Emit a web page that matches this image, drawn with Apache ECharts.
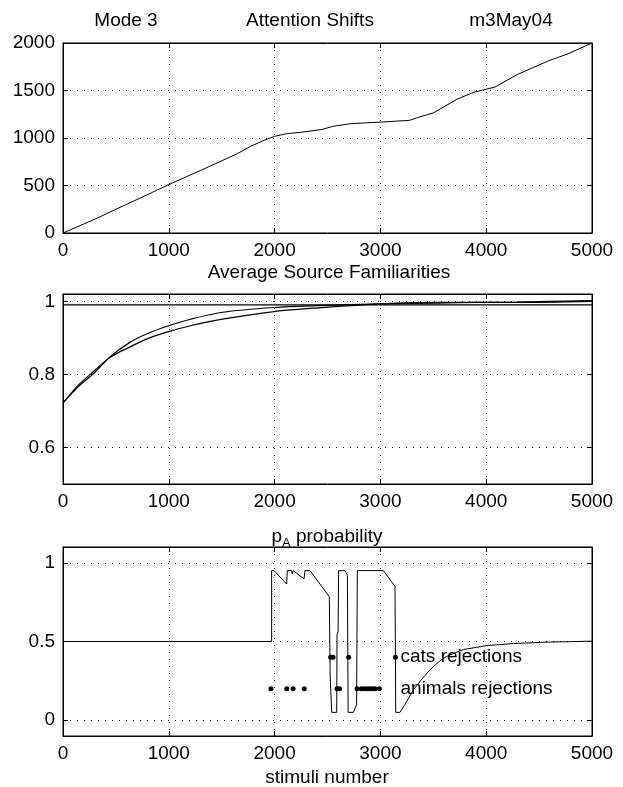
<!DOCTYPE html>
<html>
<head>
<meta charset="utf-8">
<script src="https://cdn.jsdelivr.net/npm/echarts@6/dist/echarts.min.js"></script>
<style>
html,body{margin:0;padding:0;background:#fff;}
#c{width:623px;height:787px;}
</style>
</head>
<body>
<div id="c"></div>
<script>
// ---- Data ----
const xTicks = [0, 1000, 2000, 3000, 4000, 5000];

// Panel 1: Attention Shifts (cumulative)
const shiftsX = [0, 170, 339, 500, 734, 1000, 1300, 1473, 1647, 1773, 1899, 2000, 2120, 2246, 2447, 2560, 2711, 3012, 3276, 3351, 3502, 3728, 3878, 4085, 4292, 4593, 4782, 5000];
const shiftsY = [0, 82, 165, 250, 370, 510, 658, 746, 835, 912, 975, 1018, 1046, 1060, 1090, 1125, 1150, 1168, 1186, 1215, 1265, 1410, 1480, 1537, 1667, 1814, 1890, 2000];
const shiftsTicks = [0, 500, 1000, 1500, 2000];

// Panel 2: Average Source Familiarities (two sources)
const famX = [0, 150, 282, 452, 640, 800, 998, 1205, 1506, 1995, 2410, 3012, 3539, 3916, 4292, 5000];
const famA = [0.722, 0.768, 0.800, 0.850, 0.889, 0.912, 0.933, 0.951, 0.970, 0.983, 0.988, 0.993, 0.995, 0.997, 0.998, 1.002];
const famB = [0.722, 0.772, 0.806, 0.848, 0.876, 0.898, 0.917, 0.933, 0.951, 0.972, 0.982, 0.993, 0.997, 0.997, 0.997, 1.000];
const famRefX = [0, 5000];
const famRefY = [0.99, 0.99];
const famTicks = [0.6, 0.8, 1];

// Panel 3: p_A probability
const pAX = [0, 1972, 1972, 1995, 2114, 2120, 2160, 2167, 2177, 2278, 2287, 2335, 2517, 2525, 2535, 2540, 2587, 2590, 2600, 2605, 2666, 2688, 2695, 2744, 2775, 2782, 3028, 3138, 3145, 3185, 3250, 3311, 3390, 3469, 3550, 3627, 3784, 4005, 4256, 4572, 5000];
const pAY = [0.5, 0.5, 0.95, 0.95, 0.865, 0.95, 0.95, 0.93, 0.95, 0.897, 0.95, 0.95, 0.784, 0.28, 0.27, 0.05, 0.05, 0.545, 0.56, 0.95, 0.95, 0.92, 0.05, 0.05, 0.1, 0.95, 0.95, 0.85, 0.05, 0.05, 0.12, 0.192, 0.26, 0.32, 0.37, 0.406, 0.449, 0.474, 0.487, 0.496, 0.502];
const catsX = [2530, 2552, 2700, 3142];
const catsY = [0.4, 0.4, 0.4, 0.4];
const animalsX = [1965, 2115, 2175, 2280, 2590, 2615, 2780, 2820, 2850, 2875, 2900, 2925, 2950, 2990];
const animalsY = [0.2, 0.2, 0.2, 0.2, 0.2, 0.2, 0.2, 0.2, 0.2, 0.2, 0.2, 0.2, 0.2, 0.2];
const noteX = [3190, 3190];
const noteY = [0.4, 0.2];
const noteText = ['cats rejections', 'animals rejections'];
const pATicks = [0, 0.5, 1];

// ---- Chart ----
const FONT = 'Liberation Sans, Arial, Helvetica, sans-serif';
const FS = 19;
const zip = (a, b) => a.map((v, i) => [v, b[i]]);
const fmt = v => String(v);

const grids = [
  {left: 63, top: 43, width: 529, height: 190},
  {left: 63, top: 294, width: 529, height: 190},
  {left: 63, top: 547, width: 529, height: 189}
].map(g => Object.assign(g, {show: true, borderColor: '#000', borderWidth: 1, containLabel: false}));

const gridLine = {show: true, lineStyle: {color: '#000', type: [1, 6], width: 1}};
const axLine = {show: true, onZero: false, lineStyle: {color: '#000', width: 1}};

function xAx(i, primary) {
  return {
    type: 'value', gridIndex: i, min: 0, max: 5000, interval: 1000,
    position: primary ? 'bottom' : 'top',
    axisLine: axLine,
    axisTick: {show: true, inside: true, length: 5, lineStyle: {color: '#000'}, customValues: xTicks},
    axisLabel: primary ? {show: true, color: '#000', fontFamily: FONT, fontSize: FS, margin: 8, formatter: fmt, customValues: xTicks} : {show: false},
    splitLine: primary ? gridLine : {show: false}
  };
}
function yAx(i, primary, min, max, ticks) {
  return {
    type: 'value', gridIndex: i, min: min, max: max,
    position: primary ? 'left' : 'right',
    axisLine: axLine,
    axisTick: {show: true, inside: true, length: 5, lineStyle: {color: '#000'}, customValues: ticks},
    axisLabel: primary ? {show: true, color: '#000', fontFamily: FONT, fontSize: FS, margin: 8, formatter: fmt, customValues: ticks} : {show: false, customValues: ticks},
    splitLine: primary ? gridLine : {show: false}
  };
}

const option = {
  animation: false,
  backgroundColor: '#fff',
  grid: grids,
  xAxis: [xAx(0, true), xAx(1, true), xAx(2, true), xAx(0, false), xAx(1, false), xAx(2, false)],
  yAxis: [
    yAx(0, true, 0, 2000, shiftsTicks),
    yAx(1, true, 0.5, 1.02, famTicks),
    yAx(2, true, -0.1, 1.1, pATicks),
    yAx(0, false, 0, 2000, shiftsTicks),
    yAx(1, false, 0.5, 1.02, famTicks),
    yAx(2, false, -0.1, 1.1, pATicks)
  ],
  series: [
    {type: 'line', xAxisIndex: 0, yAxisIndex: 0, data: zip(shiftsX, shiftsY), showSymbol: false, lineStyle: {color: '#000', width: 1}},
    {type: 'line', xAxisIndex: 1, yAxisIndex: 1, data: zip(famX, famA), showSymbol: false, smooth: 0.3, lineStyle: {color: '#000', width: 1.2}},
    {type: 'line', xAxisIndex: 1, yAxisIndex: 1, data: zip(famX, famB), showSymbol: false, smooth: 0.3, lineStyle: {color: '#000', width: 1.2}},
    {type: 'line', xAxisIndex: 1, yAxisIndex: 1, data: zip(famRefX, famRefY), showSymbol: false, lineStyle: {color: '#000', width: 1.2}},
    {type: 'line', xAxisIndex: 2, yAxisIndex: 2, data: zip(pAX, pAY), showSymbol: false, lineStyle: {color: '#000', width: 1}},
    {type: 'scatter', xAxisIndex: 2, yAxisIndex: 2, data: zip(catsX, catsY), symbolSize: 5, itemStyle: {color: '#000', opacity: 1}},
    {type: 'scatter', xAxisIndex: 2, yAxisIndex: 2, data: zip(animalsX, animalsY), symbolSize: 5, itemStyle: {color: '#000', opacity: 1}},
    {type: 'scatter', xAxisIndex: 2, yAxisIndex: 2, data: noteX.map((x, i) => [x, noteY[i], noteText[i]]), symbolSize: 0,
      itemStyle: {color: '#000', opacity: 1},
      label: {show: true, position: 'right', distance: 0, formatter: p => p.value[2], color: '#000', opacity: 1, textBorderWidth: 0, fontFamily: FONT, fontSize: FS}}
  ],
  graphic: [
    {type: 'text', x: 126, y: 21, style: {text: 'Mode 3', font: FS + 'px ' + FONT, fill: '#000', textAlign: 'center', textVerticalAlign: 'middle'}},
    {type: 'text', x: 310, y: 21, style: {text: 'Attention Shifts', font: FS + 'px ' + FONT, fill: '#000', textAlign: 'center', textVerticalAlign: 'middle'}},
    {type: 'text', x: 511, y: 21, style: {text: 'm3May04', font: FS + 'px ' + FONT, fill: '#000', textAlign: 'center', textVerticalAlign: 'middle'}},
    {type: 'text', x: 329, y: 273, style: {text: 'Average Source Familiarities', font: FS + 'px ' + FONT, fill: '#000', textAlign: 'center', textVerticalAlign: 'middle'}},
    {type: 'text', x: 327, y: 537, style: {
      text: '{p|p}{s|A}{p| probability}', textAlign: 'center', textVerticalAlign: 'middle',
      rich: {
        p: {fontFamily: FONT, fontSize: FS, fill: '#000', color: '#000', verticalAlign: 'middle'},
        s: {fontFamily: FONT, fontSize: 13, fill: '#000', color: '#000', verticalAlign: 'bottom', padding: [12, 0, 0, 0]}
      }}},
    {type: 'text', x: 327, y: 778, style: {text: 'stimuli number', font: FS + 'px ' + FONT, fill: '#000', textAlign: 'center', textVerticalAlign: 'middle'}}
  ]
};

const chart = echarts.init(document.getElementById('c'), null, {renderer: 'canvas'});
chart.setOption(option);
</script>
</body>
</html>
